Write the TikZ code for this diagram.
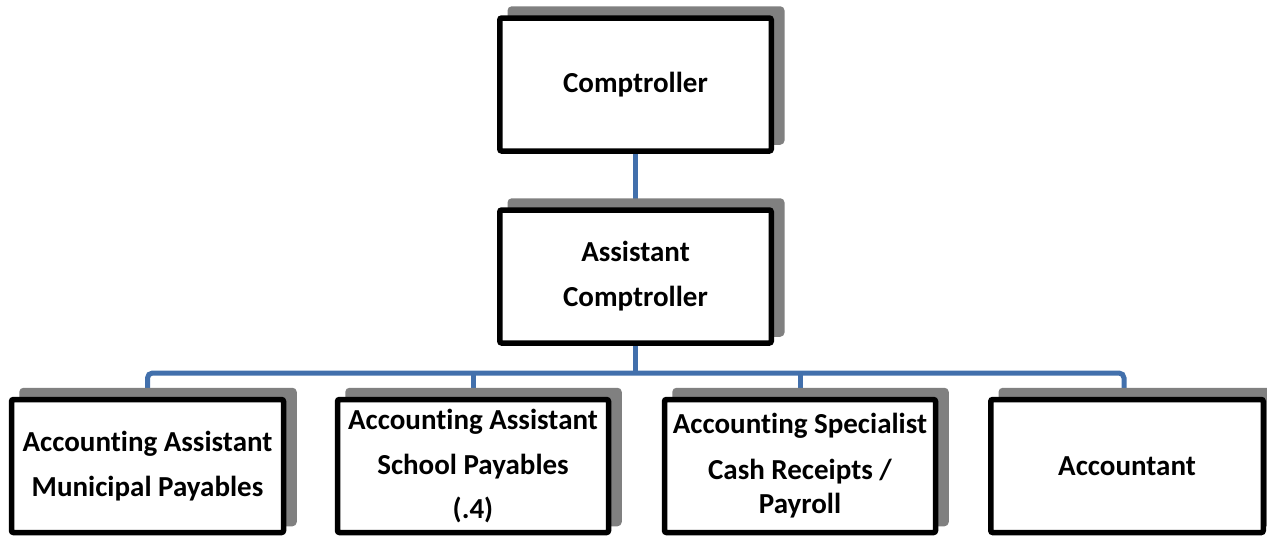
\documentclass[tikz,border=0pt]{standalone}
\usepackage{fontspec}
\setmainfont{Carlito}[Ligatures=NoCommon]
\usetikzlibrary{shadows}
\definecolor{connblue}{RGB}{66,112,172}
\definecolor{shadowgray}{RGB}{128,128,128}
\tikzset{
  orgbox/.style={draw=black, line width=5.5pt, fill=white, rounded corners=2pt,
    minimum width=271.5pt, minimum height=133pt, inner sep=0pt, align=center,
    font=\fontsize{29}{34}\selectfont\bfseries,
    general shadow={fill=shadowgray, draw=shadowgray, line width=5.5pt, sharp corners,
      shadow xshift=10.5pt, shadow yshift=9pt}},
  conn/.style={draw=connblue, line width=5pt}
}
\begin{document}
\begin{tikzpicture}[x=1pt, y=-1pt]
\useasboundingbox (0,0) rectangle (1267,536);
% connectors first (boxes and shadows drawn over)
\coordinate (top) at (635.5,84.5);
\coordinate (mid) at (635.5,276.5);
\coordinate (bus) at (635.5,373);
\coordinate (k1) at (147.5,466);
\coordinate (k2) at (473,466);
\coordinate (k3) at (800,466);
\coordinate (k4) at (1124,466);
\draw[conn] (top) -- (mid);
\draw[conn] (mid) -- (bus);
\draw[conn, rounded corners=5pt] (k1) |- (bus) -| (k4);
\draw[conn] (bus -| k2) -- (k2);
\draw[conn] (bus -| k3) -- (k3);
% boxes
\node[orgbox] (comp) at (top) {Comptroller};
\node[orgbox] (asst) at (mid) {Assistant\\[11pt]Comptroller};
\node[orgbox, minimum width=272pt] (c1) at (k1) {Accounting Assistant\\[11pt]Municipal Payables};
\node[orgbox, minimum width=271pt] (c2) at (k2) {Accounting Assistant\\[10.5pt]School Payables\\[10pt](.4)};
\node[orgbox, minimum width=271pt] (c3) at (k3) {Accounting Specialist\\[12pt]Cash Receipts /\\Payroll};
\node[orgbox, minimum width=272.5pt] (c4) at (1127,466) {Accountant};
\end{tikzpicture}
\end{document}
